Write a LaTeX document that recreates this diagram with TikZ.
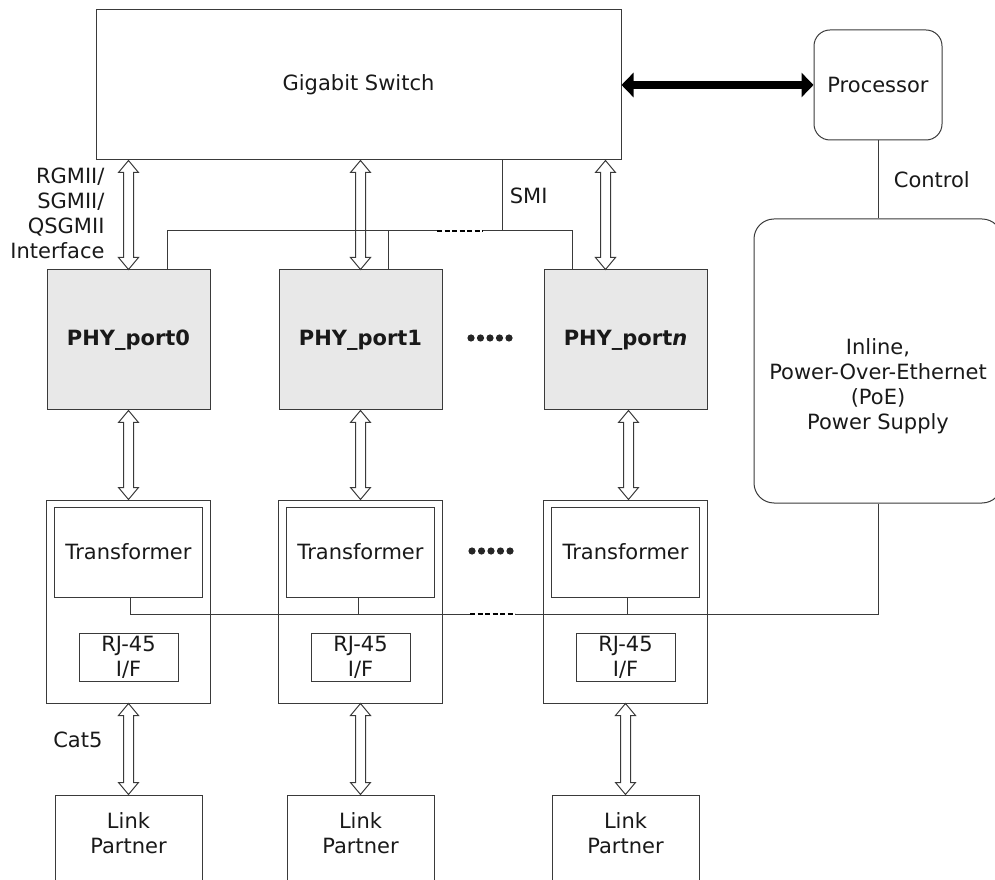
\documentclass[tikz,border=0pt]{standalone}
\usepackage{fontspec}
\setmainfont{DejaVu Sans}
\usetikzlibrary{positioning, arrows.meta, calc}
\definecolor{linea}{HTML}{3A3A3A}
\definecolor{relleno}{HTML}{E8E8E8}
\tikzset{
	every node/.style={font=\fontsize{21}{25}\selectfont, text=black!90}, % Texto de todos los nodos
	caja/.style={draw=linea, line width=1pt, inner sep=0pt, align=center}, % Cajas rectangulares
	redonda/.style={caja, rounded corners=16pt}, % Cajas con esquinas redondeadas
	phy/.style={caja, fill=relleno, minimum width=163pt, minimum height=140pt, font=\fontsize{21}{25}\selectfont\bfseries}, % Bloques PHY
	modulo/.style={caja, minimum width=164pt, minimum height=203pt}, % Caja del transformador y RJ-45
	trafo/.style={caja, minimum width=148pt, minimum height=90pt}, % Transformador
	conector/.style={caja, minimum width=99pt, minimum height=48pt}, % Conector RJ-45
	enlace/.style={caja, minimum width=147pt, minimum height=120pt}, % Link partner
	conexion/.style={draw=linea, line width=1pt}, % Lineas simples
	guiones/.style={draw=black, line width=1.6pt, dash pattern=on 5pt off 2.5pt}, % Tramo discontinuo
	gruesa/.style={line width=8pt, {Triangle[length=12pt,width=24pt]}-{Triangle[length=12pt,width=24pt]}}, % Flecha negra doble
	hueco/.style={draw=linea, fill=white, line width=1pt, % Flecha doble hueca vertical
		to path={let \p1=(\tikztostart), \p2=(\tikztotarget) in
			(\x1,\y1) -- (\x1+10pt,\y1-12pt) -- (\x1+5pt,\y1-12pt) -- (\x1+5pt,\y2+12pt)
			-- (\x1+10pt,\y2+12pt) -- (\x1,\y2) -- (\x1-10pt,\y2+12pt) -- (\x1-5pt,\y2+12pt)
			-- (\x1-5pt,\y1-12pt) -- (\x1-10pt,\y1-12pt) -- cycle}}
}

\begin{document}
\begin{tikzpicture}[x=1pt, y=1pt]
	\path[use as bounding box, clip] (0,0) rectangle (995,879);
	\node[caja, minimum width=525pt, minimum height=150pt] (switch) at (358.5,794) {Gigabit Switch};
	\node[redonda, minimum width=128pt, minimum height=110pt, right=192pt of switch] (proc) {Processor};
	\node[redonda, rounded corners=20pt, minimum width=248pt, minimum height=284pt, below=78pt of proc] (poe) {};
	\node[align=center] (poetxt) at ([yshift=-25pt]poe.center) {Inline,\\Power-Over-Ethernet\\(PoE)\\Power Supply};

	\node[phy] (phy0) at (128.5,539) {PHY\_port0};
	\node[phy, right=68pt of phy0] (phy1) {PHY\_port1};
	\node[phy, right=101pt of phy1] (phyn) {PHY\_port\textit{n}};

	\node[modulo, below=89pt of phy0] (enc0) {};
	\node[modulo, below=89pt of phy1] (enc1) {};
	\node[modulo, below=89pt of phyn] (encn) {};
	\node[trafo, below=7pt of enc0.north] (tr0) {Transformer};
	\node[trafo, below=7pt of enc1.north] (tr1) {Transformer};
	\node[trafo, below=7pt of encn.north] (trn) {Transformer};
	\node[conector, above=22pt of enc0.south] (rj0) {RJ-45\\I/F};
	\node[conector, above=22pt of enc1.south] (rj1) {RJ-45\\I/F};
	\node[conector, above=22pt of encn.south] (rjn) {RJ-45\\I/F};

	\node[enlace, below=91pt of enc0.south] (lp0) {};
	\node[enlace, below=91pt of enc1.south] (lp1) {};
	\node[enlace, below=91pt of encn.south] (lpn) {};
	\node[align=center] (lp0txt) at ([yshift=-38.5pt]lp0.north) {Link\\Partner};
	\node[align=center] (lp1txt) at ([yshift=-38.5pt]lp1.north) {Link\\Partner};
	\node[align=center] (lpntxt) at ([yshift=-38.5pt]lpn.north) {Link\\Partner};

	\node[align=right, anchor=east] (iface) at (108,666) {RGMII/\\SGMII/\\QSGMII\\Interface};
	\node[anchor=east] (cat) at (106,139) {Cat5};

	\draw[gruesa] (switch.east) -- (proc.west);
	\draw[conexion] (proc.south) -- node[right=12pt] {Control} (poe.north);

	\coordinate (an) at ([xshift=-20pt]phyn.north);
	\draw[hueco] (phy0.north |- switch.south) to (phy0.north);
	\draw[hueco] (phy1.north |- switch.south) to (phy1.north);
	\draw[hueco] (an |- switch.south) to (an);
	\draw[hueco] (phy0.south) to (phy0.south |- enc0.north);
	\draw[hueco] (phy1.south) to (phy1.south |- enc1.north);
	\draw[hueco] ([xshift=3pt]phyn.south) to ([xshift=3pt]phyn.south |- encn.north);
	\draw[hueco] (enc0.south) to (lp0.north);
	\draw[hueco] (enc1.south) to (lp1.north);
	\draw[hueco] (encn.south) to (lpn.north);

	\coordinate (smi) at (502,648);
	\coordinate (s0) at (167,648);
	\coordinate (s1) at (388,648);
	\coordinate (sn) at (572,648);
	\coordinate (d0) at (437,648);
	\coordinate (d1) at (483,648);
	\draw[conexion] (smi) -- node[right=4pt] {SMI} (smi |- switch.south);
	\draw[conexion] (s0 |- phy0.north) -- (s0) -- (d0);
	\draw[guiones] (d0) -- (d1);
	\draw[conexion] (d1) -- (sn) -- (sn |- phyn.north);
	\draw[conexion] (s1) -- (s1 |- phy1.north);

	\coordinate (b0) at (130,265);
	\coordinate (b1) at (358,265);
	\coordinate (bn) at (627,265);
	\coordinate (e0) at (470,265);
	\coordinate (e1) at (515,265);
	\draw[conexion] (b0 |- tr0.south) -- (b0) -- (e0);
	\draw[guiones] (e0) -- (e1);
	\draw[conexion] (e1) -- (poe.south |- e1) -- (poe.south);
	\draw[conexion] (b1 |- tr1.south) -- (b1);
	\draw[conexion] (bn |- trn.south) -- (bn);

	\foreach \i in {0,...,4} {
		\fill[black!85] (471+\i*9.5,541) circle (3.6);
		\fill[black!85] (472+\i*9.5,328) circle (3.6);
	}
\end{tikzpicture}
\end{document}
